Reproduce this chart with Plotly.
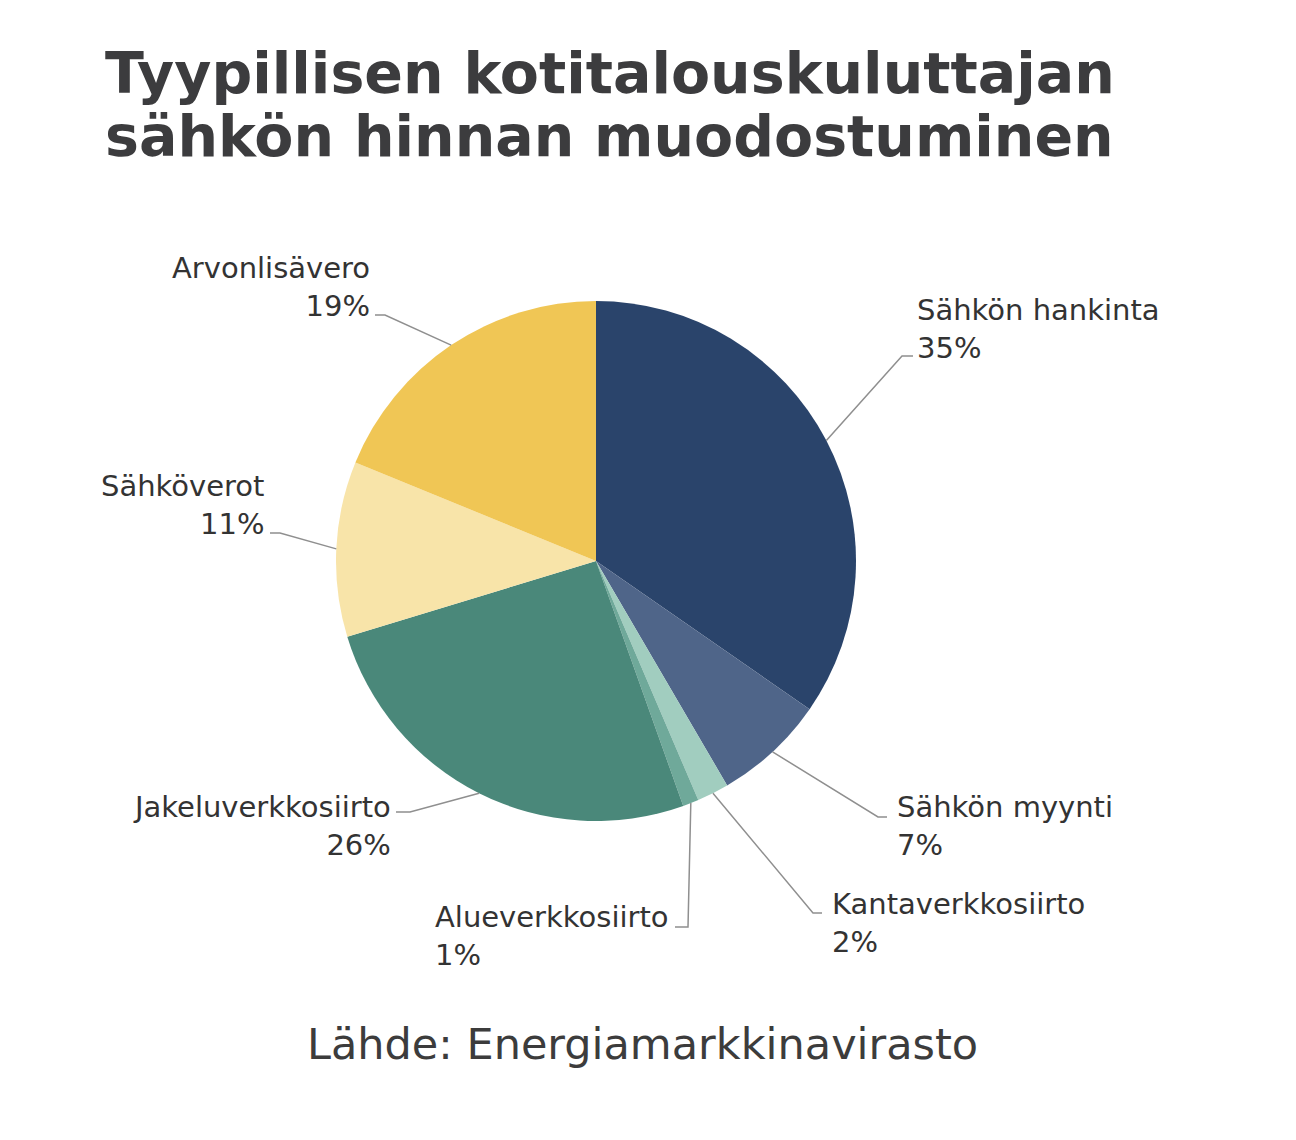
import math
import plotly.graph_objects as go

# ── Data ──────────────────────────────────────────────────────────
LABELS = [
    "Sähkön hankinta",
    "Sähkön myynti",
    "Kantaverkkosiirto",
    "Alueverkkosiirto",
    "Jakeluverkkosiirto",
    "Sähköverot",
    "Arvonlisävero",
]
VALUES = [35, 7, 2, 1, 26, 11, 19]

TITLE_LINES = ["Tyypillisen kotitalouskuluttajan", "sähkön hinnan muodostuminen"]
SOURCE = "Lähde: Energiamarkkinavirasto"

# ── Styles / layout (pixels in a 1296x1140 page) ─────────────────
COLORS = ["#2A446B", "#4F6589", "#A1CDBF", "#6FA99A", "#4A887A", "#F8E4A9", "#F0C655"]
W, H = 1296, 1140
OFFSET = 8  # page body margin pushes the figure 8 px right/down
CX, CY, R = 596, 561, 260

# text anchor (x, y middle), xanchor, elbow point, end of horizontal tick
LABEL_POS = [
    (915, 329, "left"),
    (895, 826, "left"),
    (830, 923, "left"),
    (433, 936, "left"),
    (393, 826, "right"),
    (266, 505, "right"),
    (372, 287, "right"),
]
ELBOWS = [(902, 356), (878, 817), (813, 913), (688, 927), (410, 812), (280, 533), (385, 315)]
TICK_END = [913, 887, 822, 675, 396, 270, 375]

TEXT_COLOR = "#333333"
LINE_COLOR = "#8f8f8f"


def px(x):
    return (x - OFFSET) / W


def py(y):
    return 1 - (y - OFFSET) / H


fig = go.Figure(go.Pie(
    labels=LABELS,
    values=VALUES,
    sort=False,
    direction="clockwise",
    rotation=0,
    marker=dict(colors=COLORS, line=dict(width=0)),
    textinfo="none",
    hoverinfo="label+percent",
    showlegend=False,
    domain=dict(x=[px(CX - R), px(CX + R)], y=[py(CY + R), py(CY - R)]),
))

# leader lines: slice edge at mid-angle -> elbow -> short horizontal tick
total = sum(VALUES)
cum = 0
shapes = []
for i, v in enumerate(VALUES):
    mid = (cum + v / 2) / total * 2 * math.pi
    cum += v
    ex, ey = CX + R * math.sin(mid), CY - R * math.cos(mid)
    bx, by = ELBOWS[i]
    tx = TICK_END[i]
    shapes.append(dict(
        type="path", xref="paper", yref="paper",
        path=f"M {px(ex)},{py(ey)} L {px(bx)},{py(by)} L {px(tx)},{py(by)}",
        line=dict(color=LINE_COLOR, width=1.5),
    ))

annotations = []
for i, (lab, v) in enumerate(zip(LABELS, VALUES)):
    x, y, anchor = LABEL_POS[i]
    annotations.append(dict(
        text=f"{lab}<br>{v}%", x=px(x), y=py(y), xref="paper", yref="paper",
        xanchor=anchor, yanchor="middle", align=anchor, showarrow=False,
        font=dict(family="DejaVu Sans", size=29, color=TEXT_COLOR),
    ))

for line, yc in zip(TITLE_LINES, [73, 136]):
    annotations.append(dict(
        text=f"<b>{line}</b>", x=px(103), y=py(yc), xref="paper", yref="paper",
        xanchor="left", yanchor="middle", showarrow=False,
        font=dict(family="DejaVu Sans", size=57, color="#3c3c3e"),
    ))

annotations.append(dict(
    text=SOURCE, x=px(642), y=py(1044), xref="paper", yref="paper",
    xanchor="center", yanchor="middle", showarrow=False,
    font=dict(family="DejaVu Sans", size=43, color="#3c3c3c"),
))

fig.update_layout(
    width=W, height=H,
    margin=dict(l=0, r=0, t=0, b=0),
    paper_bgcolor="white",
    plot_bgcolor="white",
    shapes=shapes,
    annotations=annotations,
)

fig.write_html("out.html")
